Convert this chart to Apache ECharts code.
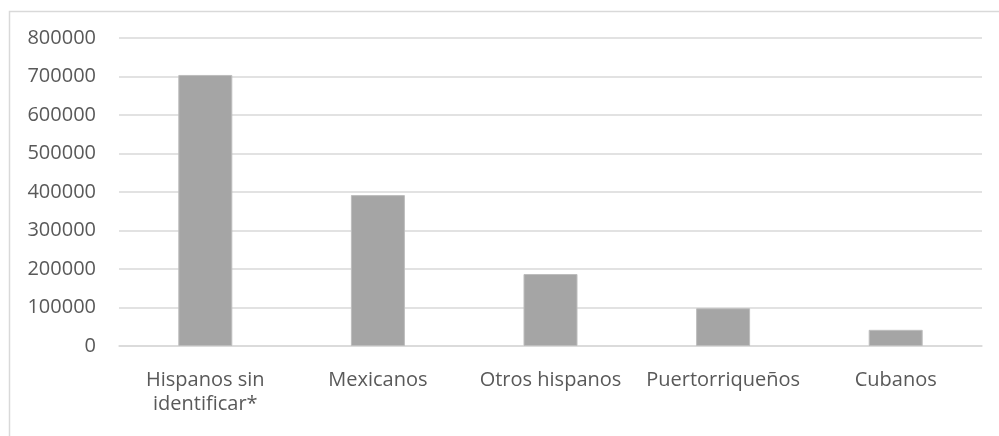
<!DOCTYPE html>
<html>
<head>
<meta charset="utf-8">
<script src="https://cdn.jsdelivr.net/npm/echarts@6/dist/echarts.min.js"></script>
<style>html,body{margin:0;padding:0;background:#fff}#c{width:999px;height:436px}</style>
</head>
<body>
<div id="c"></div>
<script>
var categories = ['Hispanos sin\nidentificar*', 'Mexicanos', 'Otros hispanos', 'Puertorriqueños', 'Cubanos'];
var values = [704000, 392000, 187000, 98000, 42000];
var yTicks = [0, 100000, 200000, 300000, 400000, 500000, 600000, 700000, 800000];

var chart = echarts.init(document.getElementById('c'), null, {renderer: 'canvas'});
var font = '"Open Sans", "Noto Sans", sans-serif';
chart.setOption({
  animation: false,
  backgroundColor: '#fff',
  graphic: [{
    type: 'rect', left: 7, top: 9,
    shape: {width: 1010, height: 450},
    style: {fill: 'none', stroke: '#d9d9d9', lineWidth: 1.5}
  }],
  grid: {left: 119, right: 17, top: 38, bottom: 90, containLabel: false},
  xAxis: {
    type: 'category',
    data: categories,
    axisLine: {lineStyle: {color: '#d9d9d9', width: 1.5}},
    axisTick: {show: false},
    axisLabel: {color: '#595959', fontFamily: font, fontSize: 20, margin: 22, lineHeight: 24, interval: 0}
  },
  yAxis: {
    type: 'value',
    min: yTicks[0], max: yTicks[yTicks.length - 1], interval: 100000,
    axisLine: {show: false},
    axisTick: {show: false},
    splitLine: {lineStyle: {color: '#d9d9d9', width: 1.5}},
    axisLabel: {color: '#595959', fontFamily: font, fontSize: 20, margin: 23,
      formatter: function (v) { return String(v); }}
  },
  series: [{
    type: 'bar',
    data: values,
    barWidth: 54,
    itemStyle: {color: '#a5a5a5', borderColor: '#bdbdbd', borderWidth: 1}
  }]
});
</script>
</body>
</html>
